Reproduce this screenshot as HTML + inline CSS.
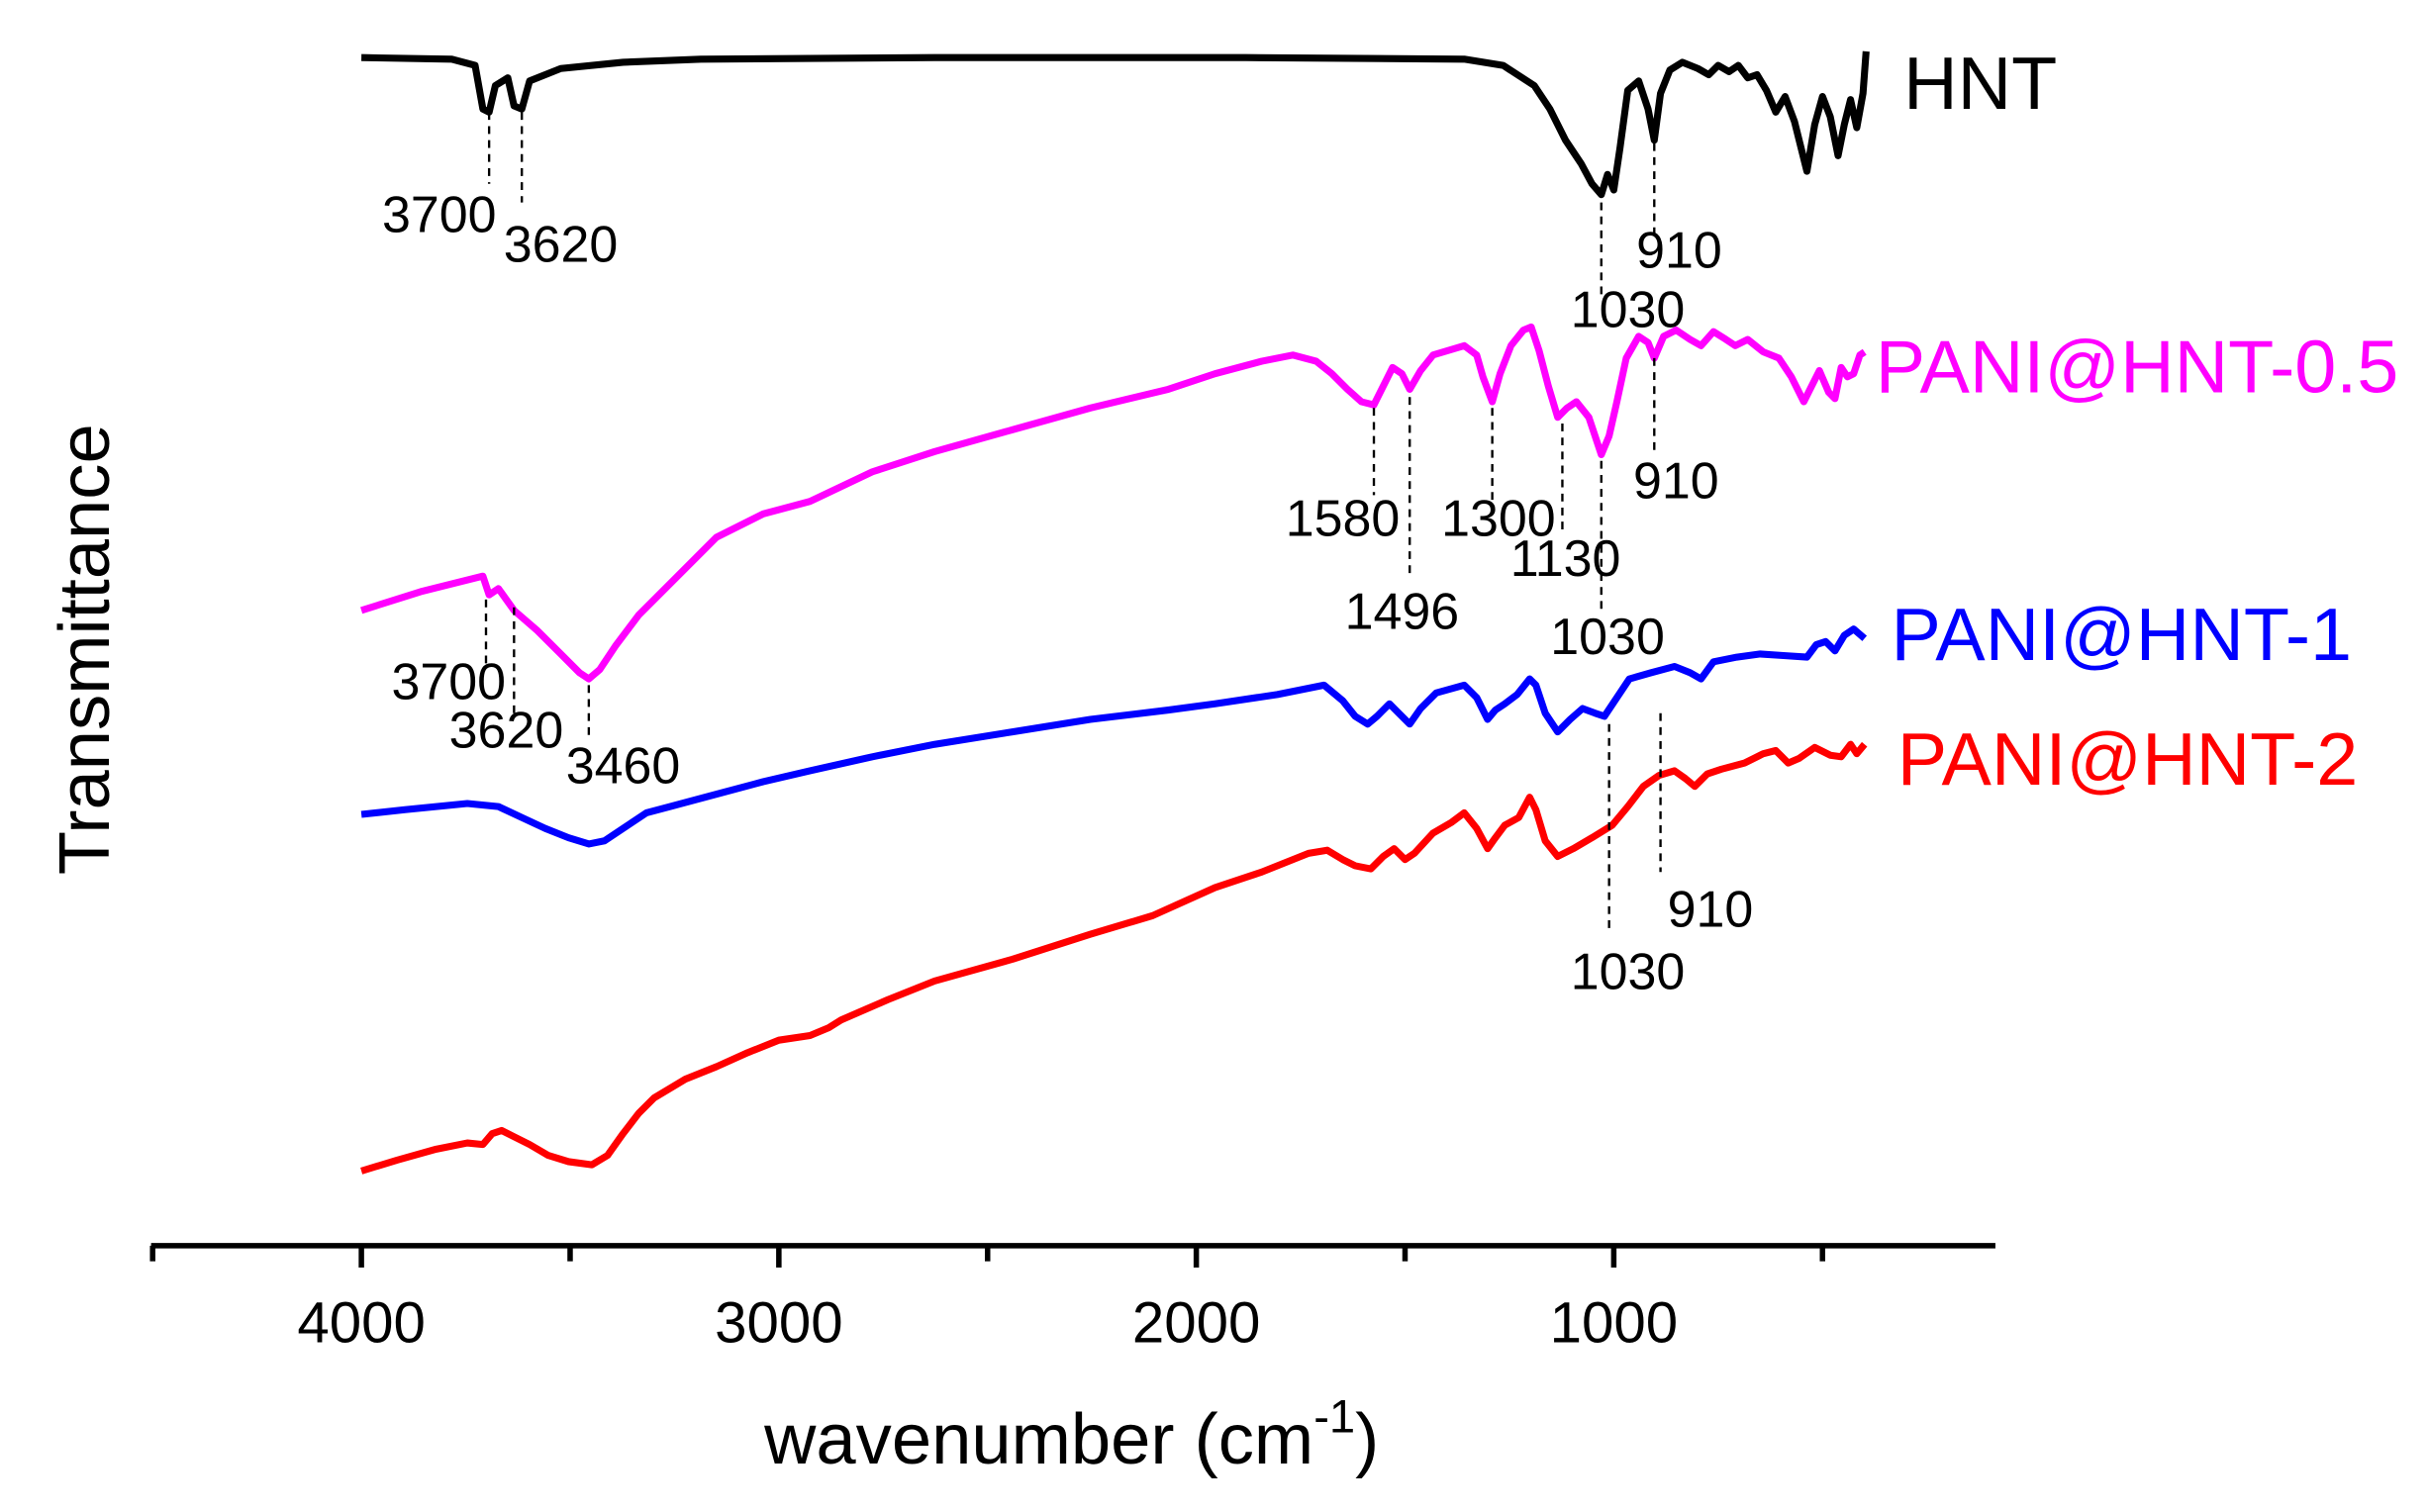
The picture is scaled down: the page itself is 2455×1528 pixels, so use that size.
<!DOCTYPE html>
<html><head><meta charset="utf-8"><style>html,body{margin:0;padding:0;background:#fff}svg{display:block}</style></head>
<body>
<svg width="2455" height="1528" viewBox="0 0 1560 971" preserveAspectRatio="none" xmlns="http://www.w3.org/2000/svg" font-family="Liberation Sans, Arial, sans-serif">
<rect width="1560" height="971" fill="#fff"/>
<g stroke="#000" stroke-width="3.5">
<line x1="97" y1="800" x2="1281" y2="800"/>
<line x1="98" y1="800" x2="98" y2="810"/>
<line x1="232" y1="800" x2="232" y2="814"/>
<line x1="366" y1="800" x2="366" y2="810"/>
<line x1="500" y1="800" x2="500" y2="814"/>
<line x1="634" y1="800" x2="634" y2="810"/>
<line x1="768" y1="800" x2="768" y2="814"/>
<line x1="902" y1="800" x2="902" y2="810"/>
<line x1="1036" y1="800" x2="1036" y2="814"/>
<line x1="1170" y1="800" x2="1170" y2="810"/>
</g>
<g font-size="37" text-anchor="middle" fill="#000">
<text x="232" y="862">4000</text><text x="500" y="862">3000</text><text x="768" y="862">2000</text><text x="1036" y="862">1000</text>
</g>
<text x="688" y="940" font-size="46" text-anchor="middle">wavenumber (cm<tspan font-size="30" dy="-20">-1</tspan><tspan dy="20">)</tspan></text>
<text transform="translate(70,417) rotate(-90)" font-size="46" text-anchor="middle">Transmittance</text>
<g fill="none" stroke-width="4.5" stroke-linejoin="round">
<polyline stroke="#000" points="232,37 290,38 305,42 310,70 314,72 318,55 326,50 330,68 335,70 340,52 360,44 400,40 450,38 600,37 800,37 940,38 965,42 985,55 995,70 1005,90 1015,105 1022,118 1028,125 1032,112 1036,122 1040,95 1045,58 1052,52 1058,70 1062,90 1066,60 1072,45 1080,40 1090,44 1097,48 1103,42 1110,46 1116,42 1122,50 1128,48 1134,58 1140,72 1146,62 1152,78 1160,110 1165,80 1170,62 1175,75 1180,100 1184,80 1188,64 1192,82 1196,60 1198,33"/>
<polyline stroke="#ff00ff" points="232,392 270,380 310,370 314,382 320,378 330,392 345,405 360,420 372,432 378,436 385,430 395,415 410,395 420,385 440,365 460,345 490,330 520,322 560,303 600,290 650,276 700,262 750,250 780,240 810,232 830,228 845,232 855,240 865,250 874,258 882,260 888,248 894,236 900,240 905,250 912,238 920,228 940,222 948,228 952,242 958,258 963,240 970,222 978,212 983,210 988,225 994,248 1000,268 1006,262 1012,258 1020,268 1028,292 1033,280 1038,258 1044,230 1052,216 1058,220 1062,230 1068,216 1076,212 1085,218 1092,222 1100,213 1108,218 1114,222 1122,218 1132,226 1142,230 1150,242 1158,258 1163,248 1168,238 1174,252 1178,256 1182,236 1186,242 1190,240 1194,228 1197,226"/>
<polyline stroke="#0000ff" points="232,523 260,520 300,516 320,518 335,525 350,532 365,538 378,542 388,540 400,532 415,522 430,518 460,510 490,502 520,495 560,486 600,478 650,470 700,462 750,456 780,452 820,446 850,440 862,450 870,460 878,465 884,460 892,452 898,458 905,465 912,455 922,445 940,440 948,448 955,462 960,456 966,452 974,446 982,436 986,440 992,458 1000,470 1008,462 1016,455 1024,458 1030,460 1038,448 1046,436 1060,432 1075,428 1085,432 1092,436 1100,425 1115,422 1130,420 1145,421 1160,422 1166,414 1172,412 1178,418 1184,408 1190,404 1197,410"/>
<polyline stroke="#ff0000" points="232,752 255,745 280,738 300,734 310,735 316,728 322,726 330,730 340,735 352,742 365,746 380,748 390,742 400,728 410,715 420,705 440,693 460,685 480,676 500,668 520,665 532,660 540,655 570,642 600,630 650,616 700,600 740,588 780,570 810,560 840,548 852,546 862,552 870,556 880,558 888,550 895,545 902,552 908,548 920,535 932,528 940,522 948,532 955,545 960,538 966,530 975,525 982,512 986,520 992,540 1000,550 1010,545 1022,538 1035,530 1045,518 1055,505 1065,498 1075,495 1082,500 1088,505 1096,497 1105,494 1120,490 1132,484 1140,482 1148,490 1155,487 1165,480 1175,485 1182,486 1188,478 1192,484 1197,478"/>
</g>
<g stroke="#000" stroke-width="1.5" stroke-dasharray="5,4">
<line x1="314" y1="72" x2="314" y2="118"/><line x1="335" y1="72" x2="335" y2="130"/>
<line x1="1028" y1="130" x2="1028" y2="190"/><line x1="1062" y1="92" x2="1062" y2="150"/>
<line x1="312" y1="385" x2="312" y2="428"/><line x1="330" y1="390" x2="330" y2="460"/><line x1="378" y1="440" x2="378" y2="472"/>
<line x1="882" y1="262" x2="882" y2="318"/><line x1="905" y1="255" x2="905" y2="370"/><line x1="958" y1="262" x2="958" y2="322"/>
<line x1="1003" y1="272" x2="1003" y2="342"/><line x1="1028" y1="296" x2="1028" y2="395"/><line x1="1062" y1="230" x2="1062" y2="290"/>
<line x1="1033" y1="465" x2="1033" y2="597"/><line x1="1066" y1="458" x2="1066" y2="560"/>
</g>
<g font-size="33" text-anchor="middle" fill="#000">
<text x="282" y="149">3700</text><text x="360" y="168">3620</text>
<text x="1045" y="210">1030</text><text x="1078" y="172">910</text>
<text x="288" y="449">3700</text><text x="325" y="480">3620</text><text x="400" y="503">3460</text>
<text x="862" y="344">1580</text><text x="900" y="404">1496</text><text x="962" y="344">1300</text>
<text x="1005" y="370">1130</text><text x="1032" y="420">1030</text><text x="1076" y="320">910</text>
<text x="1045" y="635">1030</text><text x="1098" y="595">910</text>
</g>
<g font-size="48">
<text x="1222" y="70" fill="#000">HNT</text>
<text x="1204" y="252" fill="#ff00ff">PANI@HNT-0.5</text>
<text x="1214" y="424" fill="#0000ff">PANI@HNT-1</text>
<text x="1218" y="504" fill="#ff0000">PANI@HNT-2</text>
</g>
</svg>
</body></html>
